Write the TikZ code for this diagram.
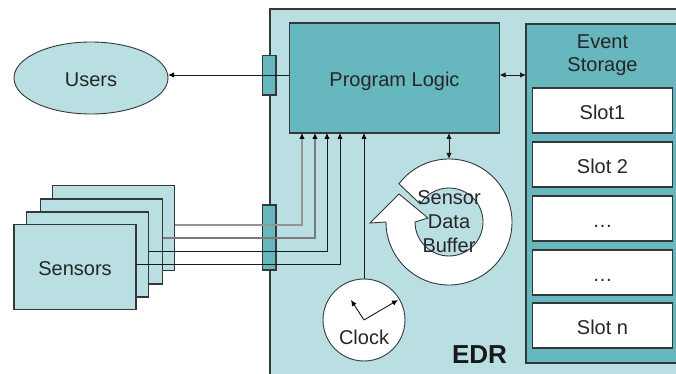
\documentclass[tikz,border=0pt]{standalone}
\usepackage{fontspec}
\setmainfont{Liberation Sans}
\usetikzlibrary{positioning,arrows.meta,shapes.geometric}
\definecolor{edrlight}{HTML}{B9DFE2}
\definecolor{edrdark}{HTML}{66B7BE}
\definecolor{edrline}{HTML}{333838}

\begin{document}
\begin{tikzpicture}[x=1pt,y=1pt,
    font=\fontsize{20}{24}\selectfont,
    lbl/.style={inner sep=0pt,align=center,text=black!85},
    inbox/.style={text=black!85,text height=18pt,text depth=0pt,inner ysep=0pt},
    box/.style={rectangle,draw=edrline,line width=1.1pt,outer sep=0pt,fill=edrlight},
    edrbox/.style={box,minimum width=430pt,minimum height=391pt},
    logicbox/.style={box,inbox,fill=edrdark,minimum width=210pt,minimum height=110pt},
    storagebox/.style={box,fill=edrdark,minimum width=164pt,minimum height=339pt},
    slotbox/.style={box,inbox,fill=white,minimum width=140pt,minimum height=45pt},
    port/.style={box,fill=edrdark,minimum width=13.5pt},
    sensorbox/.style={box,inbox,minimum width=122pt,minimum height=85pt},
    usersbox/.style={ellipse,inbox,draw=edrline,line width=.9pt,fill=edrlight,outer sep=0pt,minimum width=154pt,minimum height=72pt},
    clockbox/.style={circle,draw=edrline,line width=.9pt,fill=white,outer sep=0pt,minimum size=82pt},
    wire/.style={line width=.9pt,draw=black!90,-{Latex[length=6pt,width=5.5pt,black]}},
    wirea/.style={wire,line width=1.2pt,draw=black!42},
    wireb/.style={wire,line width=1.2pt,draw=black!52},
    both/.style={line width=.9pt,draw=black!90,{Latex[length=6pt,width=5.5pt]}-{Latex[length=6pt,width=5.5pt]}},
    node distance=9pt]

\useasboundingbox (0,0) rectangle (676,374);
\clip (0,0) rectangle (676,374);

\node[edrbox] (edr) at (485,169.5) {};
\node[logicbox] (logic) at (394.5,296) {Program Logic};
\node[storagebox] (storage) at (608,180.5) {};
\node[lbl,font=\fontsize{20}{23.5}\selectfont] (storagetitle) at (602.5,319) {Event\\Storage};

\node[slotbox] (slotA) at (602.5,263.5) {Slot1};
\node[slotbox] (slotB) [below=of slotA] {Slot 2};
\node[slotbox] (slotC) [below=of slotB] {…};
\node[slotbox] (slotD) [below=of slotC] {…};
\node[slotbox] (slotE) [below=8pt of slotD] {Slot n};

\node[usersbox] (users) at (91,296) {Users};
\node[port,minimum height=39.5pt] (portA) at (269.25,298.75) {};
\node[port,minimum height=65pt] (portB) at (269.25,136.5) {};

\node[sensorbox] (sensorD) at (113.5,146) {};
\node[sensorbox] (sensorC) at (101.5,132.5) {};
\node[sensorbox] (sensorB) at (87.5,119.5) {};
\node[sensorbox] (sensorA) at (75,107) {Sensors};

% circular buffer
\draw[draw=edrline,line width=.9pt,fill=white] (449,152)+(142.6:63) arc[start angle=142.6,end angle=-180,radius=63]
    -- (370,151) -- (399,180) -- (428,156) -- (415,152)
    arc[start angle=180,end angle=508,radius=34] -- cycle;
\node[circle,minimum size=126pt,outer sep=0pt,lbl] (buffer) at (449,152) {Sensor\\Data\\Buffer};

\node[clockbox] (clock) at (364,54) {};
\node[lbl] (clocktext) at (364,37) {Clock};
\coordinate (handA) at (351,74);
\coordinate (handB) at (398,74);
\coordinate (logicleft) at ([yshift=3pt]logic.west);
\coordinate (logicright) at ([yshift=3pt]logic.east);

\draw[wire] (logicleft) -- (logicleft -| users.east);
\draw[both] (logicright) -- (logicright -| storage.west);
\draw[both] (buffer |- logic.south) -- (buffer.north);

\draw[wirea] ([yshift=3pt]sensorD.east) -| ([xshift=12.5pt]logic.south west);
\draw[wireb] ([yshift=3.5pt]sensorC.east) -| ([xshift=25.5pt]logic.south west);
\draw[wire] ([yshift=3.5pt]sensorB.east) -| ([xshift=37.5pt]logic.south west);
\draw[wire] ([yshift=3pt]sensorA.east) -| ([xshift=50.5pt]logic.south west);
\draw[wire] (clock.north) -- (clock.north |- logic.south);

\draw[wire] (clock.center) -- (handA);
\draw[wire] (clock.center) -- (handB);

\node[inner sep=0pt,font=\fontsize{26}{30}\selectfont\bfseries,text=black!90] (edrname) at (479.5,19.5) {EDR};
\end{tikzpicture}
\end{document}
